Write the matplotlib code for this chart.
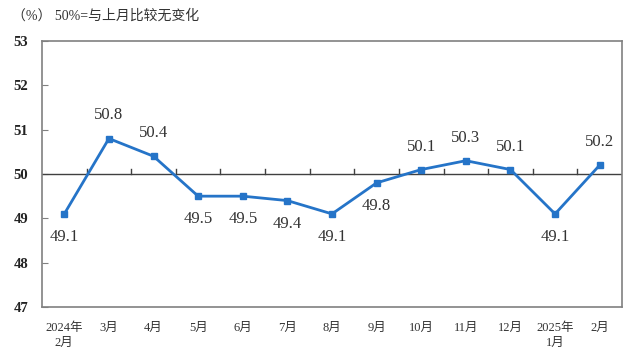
import numpy as np
import matplotlib.pyplot as plt

# data
months = ['2024年\n2月', '3月', '4月', '5月', '6月', '7月', '8月', '9月',
          '10月', '11月', '12月', '2025年\n1月', '2月']
pmi = [49.1, 50.8, 50.4, 49.5, 49.5, 49.4, 49.1, 49.8, 50.1, 50.3, 50.1, 49.1, 50.2]
label_above = [False, True, True, False, False, False, False, False, True, True, True, False, True]

fam = ['Liberation Serif', 'Noto Sans CJK SC']
blue = '#2574C8'

fig = plt.figure(figsize=(6.4, 3.56), dpi=100)
ax = fig.add_axes([42 / 640, 1 - 307 / 356, 580 / 640, 266 / 356])

x = np.arange(len(pmi))
ax.plot(x, pmi, color=blue, lw=2, marker='s', ms=5, zorder=3)

# reference line at 50 with small ticks between months
ax.axhline(50, color='#404040', lw=1, zorder=2)
for b in np.arange(0.5, len(pmi) - 1, 1):
    ax.plot([b, b], [50, 50.12], color='#404040', lw=1, zorder=2)

# value labels
for i, v in enumerate(pmi):
    off = 0.52 if label_above[i] else -0.52
    ax.text(i, v + off, f'{v:.1f}', ha='center', va='center', fontsize=12,
            color='#333333', family=fam)

ax.set_xlim(-0.5, len(pmi) - 0.5)
ax.set_ylim(47, 53)
ax.set_yticks(range(47, 54))
ax.set_yticklabels([str(t) for t in range(47, 54)], family=fam, fontsize=10.5,
                   color='#222222', fontweight='bold')
ax.set_xticks(x)
ax.set_xticklabels(months, family=fam, fontsize=9, color='#333333', linespacing=1.25)
ax.tick_params(axis='x', length=0, pad=11)
ax.tick_params(axis='y', direction='in', length=4, color='#808080', pad=10)
for s in ax.spines.values():
    s.set_color('#808080')
    s.set_linewidth(1.2)

fig.text(12 / 640, 1 - 16 / 356, '（%） 50%=与上月比较无变化', family=fam, fontsize=10,
         color='#333333', va='center')

fig.savefig('out.png', dpi=100, facecolor='white')
